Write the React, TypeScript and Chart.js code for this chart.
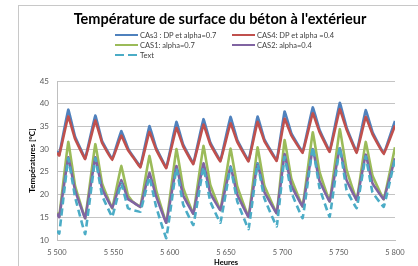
import React, { useEffect, useRef } from 'react';
import { Chart, registerables } from 'chart.js';

Chart.register(...registerables);

const hours = [5500, 5502, 5510, 5516, 5525, 5534, 5540, 5549, 5557, 5563, 5567, 5574, 5582, 5588, 5597, 5606, 5612, 5621, 5630, 5636, 5645, 5654, 5660, 5670, 5678, 5684, 5695, 5702, 5708, 5718, 5727, 5733, 5742, 5751, 5757, 5766, 5774, 5780, 5790, 5800];

const cas3 = [29.6, 28.8, 38.7, 32.8, 28.0, 37.4, 31.8, 27.8, 34.0, 30.2, 28.6, 26.2, 35.1, 30.3, 26.0, 36.0, 31.0, 26.9, 36.6, 31.5, 27.5, 37.1, 32.0, 27.5, 37.2, 32.2, 27.6, 38.3, 33.5, 29.4, 39.2, 34.3, 29.6, 40.2, 34.8, 29.4, 38.6, 33.8, 29.1, 36.2];
const cas4 = [29.2, 28.6, 37.2, 32.3, 27.8, 36.3, 31.4, 27.6, 33.0, 29.8, 28.4, 26.0, 33.8, 29.9, 25.8, 34.7, 30.6, 26.7, 35.4, 31.1, 27.3, 35.7, 31.6, 27.3, 36.0, 31.8, 27.4, 36.7, 33.0, 29.2, 37.9, 33.8, 29.4, 38.8, 34.3, 29.2, 37.1, 33.3, 28.9, 35.2];
const cas1 = [16.0, 15.2, 31.6, 22.0, 14.8, 31.1, 22.5, 17.0, 26.3, 19.8, 18.5, 17.3, 28.5, 21.0, 13.8, 30.0, 21.5, 15.8, 30.7, 22.2, 16.6, 30.1, 21.8, 15.1, 30.4, 22.0, 15.9, 32.0, 23.5, 17.4, 33.7, 25.0, 18.5, 34.4, 25.5, 18.8, 31.6, 24.2, 19.0, 30.4];
const cas2 = [15.8, 15.0, 28.2, 21.0, 14.8, 28.2, 21.3, 17.0, 23.2, 19.0, 18.4, 17.3, 24.8, 19.6, 13.8, 26.3, 19.8, 15.8, 26.9, 20.3, 16.6, 26.2, 20.0, 15.1, 26.9, 20.6, 15.9, 28.9, 22.0, 17.4, 30.0, 23.0, 18.5, 30.2, 23.2, 18.8, 28.8, 22.5, 19.0, 28.0];
const text = [12.0, 11.4, 28.0, 19.5, 11.3, 28.0, 19.8, 15.1, 22.5, 17.0, 16.6, 16.2, 23.8, 17.3, 10.4, 25.8, 17.8, 13.3, 26.0, 18.5, 13.8, 26.0, 18.5, 12.4, 26.8, 19.2, 13.0, 28.3, 20.5, 14.8, 30.4, 21.5, 15.1, 30.4, 21.0, 17.0, 28.4, 20.5, 17.3, 27.8];

const seriesNames = ['CAs3 : DP et alpha=0.7', 'CAS4: DP et alpha =0.4', 'CAS1: alpha=0.7', 'CAS2: alpha=0.4', 'Text'];
const seriesColors = ['#4F81BD', '#C0504D', '#9BBB59', '#8064A2', '#4BACC6'];
const seriesValues = [cas3, cas4, cas1, cas2, text];

const chartTitle = "Température de surface du béton à l'extérieur";
const xTitle = 'Heures';
const yTitle = 'Températures [°C]';
const xMin = 5500, xMax = 5800, xStep = 50;
const yMin = 10, yMax = 45, yStep = 5;

const FONT = 'Lato, "Open Sans", sans-serif';

function fmt(v: number) {
  return String(v).replace(/\B(?=(\d{3})+(?!\d))/g, ' ');
}

const legendPos = [
  { x: 115, y: 35 },
  { x: 232, y: 35 },
  { x: 115, y: 45 },
  { x: 232, y: 45 },
  { x: 115, y: 55 },
];

export default function App() {
  const ref = useRef<HTMLCanvasElement | null>(null);
  useEffect(() => {
    if (!ref.current) return;
    const datasets = seriesValues.map((vals, i) => ({
      label: seriesNames[i],
      data: vals.map((v, j) => ({ x: hours[j], y: v })),
      borderColor: seriesColors[i],
      backgroundColor: seriesColors[i],
      borderWidth: 2.6,
      borderDash: i === 4 ? [7, 4] : [],
      pointRadius: 0,
      tension: 0.05,
      fill: false,
      order: 5 - i,
    }));
    const chart = new Chart(ref.current, {
      type: 'line',
      data: { datasets },
      options: {
        animation: false,
        responsive: false,
        maintainAspectRatio: false,
        layout: { padding: { left: 0, right: 23, top: 81, bottom: 0 } },
        plugins: {
          legend: { display: false },
          tooltip: { enabled: false },
          title: { display: false },
        },
        scales: {
          x: {
            type: 'linear',
            min: xMin,
            max: xMax,
            afterFit: (s: any) => { s.height = 26; },
            ticks: {
              stepSize: xStep,
              color: '#595959',
              font: { family: FONT, size: 7.5 },
              padding: 8,
              maxRotation: 0,
              callback: (v: any) => fmt(Number(v)),
            },
            grid: { display: false, drawTicks: false },
            border: { display: true, color: '#bfbfbf' },
            title: {
              display: true,
              text: xTitle,
              color: '#000',
              font: { family: FONT, size: 7.5, weight: 'bold', lineHeight: 1 },
              padding: { top: 0, bottom: 0 },
            },
          },
          y: {
            min: yMin,
            max: yMax,
            afterFit: (s: any) => { s.width = 57; },
            ticks: {
              stepSize: yStep,
              color: '#595959',
              font: { family: FONT, size: 8 },
              padding: 8,
            },
            grid: { color: '#c4c4c4', lineWidth: 1, drawTicks: false },
            border: { display: true, color: '#bfbfbf' },
            title: {
              display: true,
              text: yTitle,
              color: '#000',
              font: { family: FONT, size: 8, weight: 'bold', lineHeight: 1.2 },
              padding: { top: 28, bottom: 0 },
            },
          },
        },
      },
    });
    return () => chart.destroy();
  }, []);

  return (
    <div style={{ position: 'fixed', left: 0, top: 0, width: 418, height: 266, overflow: 'hidden', background: '#fff' }}>
      <div style={{ position: 'absolute', left: 18, top: 5, width: 500, height: 400, border: '1px solid #c8c8c8' }} />
      <canvas ref={ref} width={418} height={266} style={{ position: 'absolute', left: 0, top: 0, width: 418, height: 266 }} />
      <div style={{ position: 'absolute', left: 120, width: 200, top: 9, height: 18, display: 'flex', justifyContent: 'center', alignItems: 'center', fontFamily: FONT, fontSize: 14.5, fontWeight: 'bold', color: '#000', whiteSpace: 'nowrap' }}>
        {chartTitle}
      </div>
      {seriesNames.map((name, i) => (
        <div key={name} style={{ position: 'absolute', left: legendPos[i].x, top: legendPos[i].y - 6, height: 12, display: 'flex', alignItems: 'center', fontFamily: FONT, fontSize: 7.5, color: '#404040', whiteSpace: 'nowrap' }}>
          <svg width={24} height={4} style={{ marginRight: 1 }}>
            <line x1={0} y1={2} x2={23} y2={2} stroke={seriesColors[i]} strokeWidth={2} strokeDasharray={i === 4 ? '9 4' : undefined} />
          </svg>
          <span>{name}</span>
        </div>
      ))}
    </div>
  );
}
